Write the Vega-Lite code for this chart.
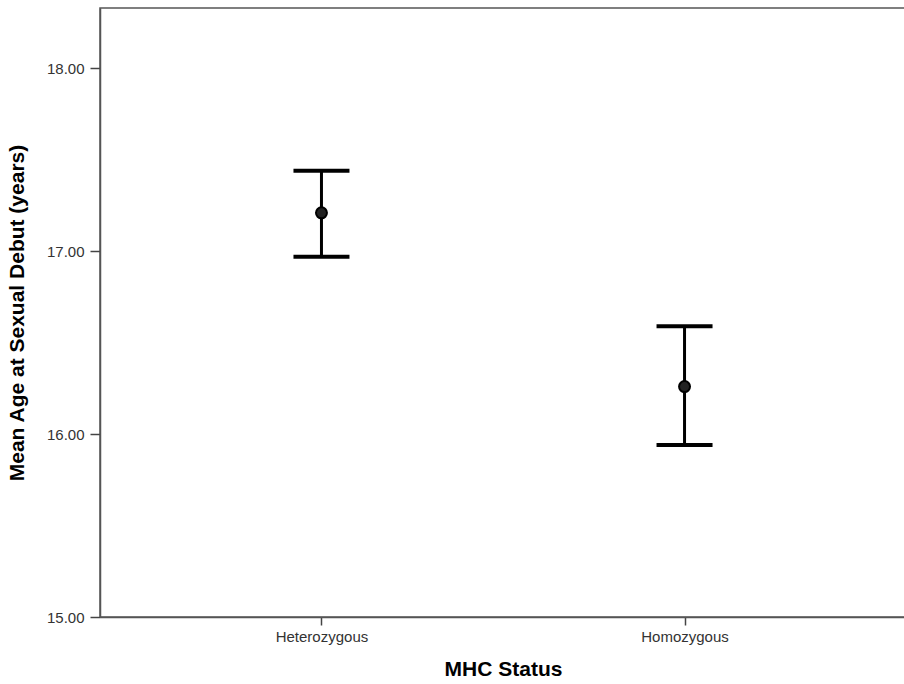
{
  "$schema": "https://vega.github.io/schema/vega-lite/v6.json",
  "autosize": "none",
  "width": 806,
  "height": 609,
  "padding": {"left": 100, "top": 8, "right": 0, "bottom": 67},
  "background": "white",
  "config": {
    "view": {"stroke": "#555555", "strokeWidth": 1.5},
    "font": "Liberation Sans"
  },
  "data": {
    "values": [
      {"status": "Heterozygous", "mean": 17.21, "lower": 16.97, "upper": 17.44},
      {"status": "Homozygous", "mean": 16.26, "lower": 15.94, "upper": 16.59}
    ]
  },
  "encoding": {
    "x": {
      "field": "status",
      "type": "nominal",
      "scale": {"type": "point", "padding": 0.61},
      "axis": {
        "title": "MHC Status",
        "titleFont": "Liberation Sans",
        "titleFontSize": 21,
        "titleFontWeight": "bold",
        "titleColor": "#000000",
        "titlePadding": 14,
        "labelFont": "Liberation Sans",
        "labelFontSize": 15,
        "labelColor": "#333333",
        "labelAngle": 0,
        "labelPadding": 4,
        "tickSize": 8,
        "tickColor": "#444444",
        "tickWidth": 1.5,
        "domainColor": "#555555",
        "domainWidth": 1.5,
        "grid": false
      }
    }
  },
  "layer": [
    {
      "mark": {"type": "rule", "color": "#000000", "strokeWidth": 3},
      "encoding": {
        "y": {
          "field": "lower",
          "type": "quantitative",
          "scale": {"domain": [15, 18.33], "nice": false, "zero": false},
          "axis": {
            "title": "Mean Age at Sexual Debut (years)",
            "titleFont": "Liberation Sans",
            "titleFontSize": 21,
            "titleFontWeight": "bold",
            "titleColor": "#000000",
            "titlePadding": 19,
            "values": [15, 16, 17, 18],
            "format": ".2f",
            "labelFont": "Liberation Sans",
            "labelFontSize": 15,
            "labelColor": "#333333",
            "labelPadding": 6,
            "tickSize": 10,
            "tickColor": "#444444",
            "tickWidth": 1.5,
            "domainColor": "#555555",
            "domainWidth": 1.5,
            "grid": false
          }
        },
        "y2": {"field": "upper"}
      }
    },
    {
      "mark": {"type": "tick", "orient": "horizontal", "color": "#000000", "size": 56, "thickness": 4, "opacity": 1},
      "encoding": {"y": {"field": "lower", "type": "quantitative"}}
    },
    {
      "mark": {"type": "tick", "orient": "horizontal", "color": "#000000", "size": 56, "thickness": 4, "opacity": 1},
      "encoding": {"y": {"field": "upper", "type": "quantitative"}}
    },
    {
      "mark": {"type": "point", "shape": "circle", "filled": true, "fill": "#222222", "stroke": "#000000", "strokeWidth": 2, "size": 120, "opacity": 1},
      "encoding": {"y": {"field": "mean", "type": "quantitative"}}
    }
  ]
}
